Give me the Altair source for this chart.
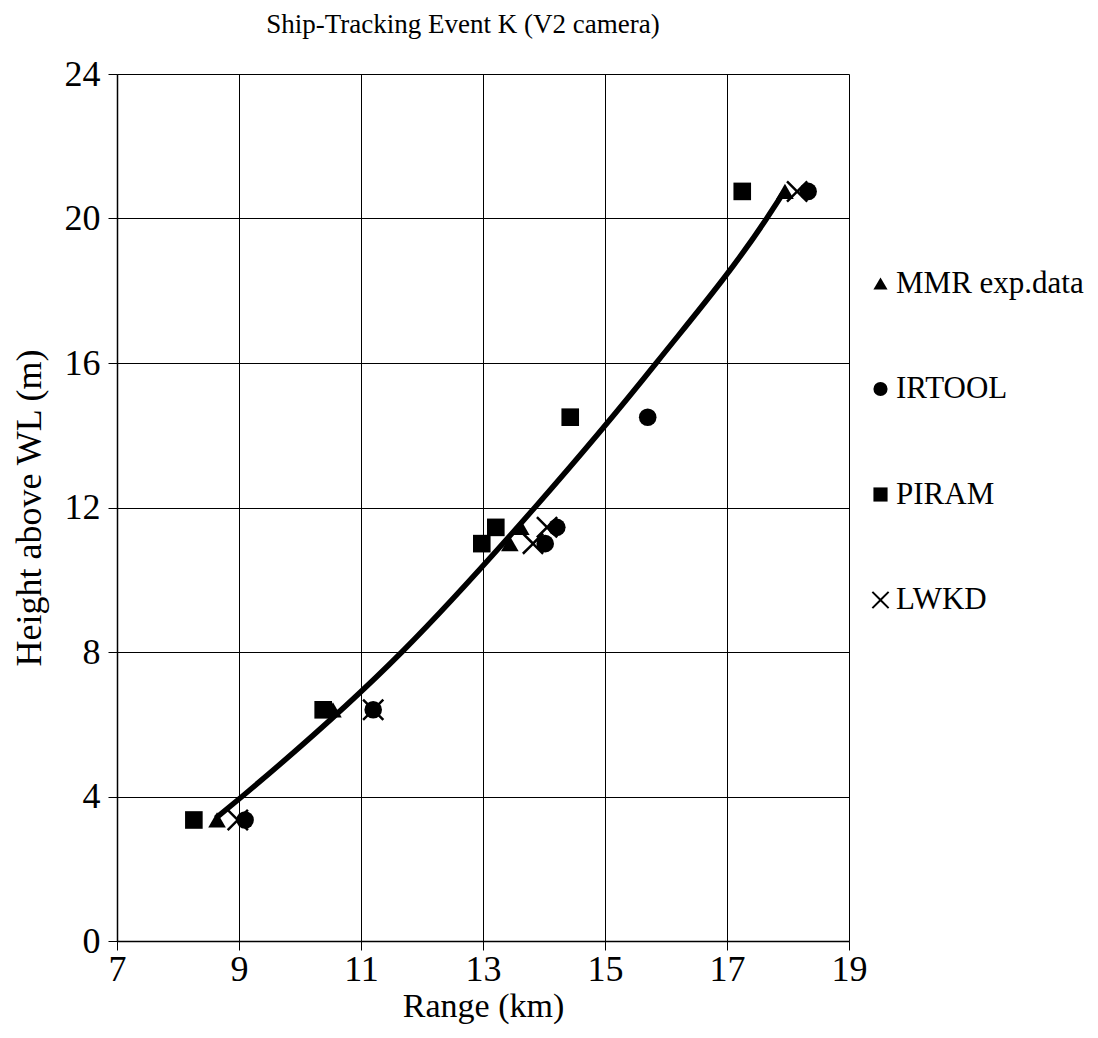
import altair as alt
import pandas as pd

# ---- data ----
series_names = ["MMR exp.data", "IRTOOL", "PIRAM", "LWKD"]

mmr_x = [8.64, 10.54, 13.44, 13.62, 17.95]
mmr_y = [3.35, 6.4, 11.0, 11.45, 20.75]

irtool_x = [9.10, 11.20, 14.02, 14.21, 15.70, 18.33]
irtool_y = [3.35, 6.4, 11.0, 11.45, 14.5, 20.75]

piram_x = [8.26, 10.38, 12.98, 13.21, 14.43, 17.25]
piram_y = [3.35, 6.4, 11.0, 11.45, 14.5, 20.75]

lwkd_x = [8.98, 11.20, 13.82, 14.05, 18.15]
lwkd_y = [3.35, 6.4, 11.0, 11.45, 20.75]

fit_x = [8.62, 9.05, 11.67, 13.85, 15.84, 17.65, 17.92]
fit_y = [3.4, 4.0, 8.0, 12.0, 16.0, 20.0, 20.7]

x_ticks = [7, 9, 11, 13, 15, 17, 19]
y_ticks = [0, 4, 8, 12, 16, 20, 24]

# ---- tables ----
rows = []
for name, xs, ys in [
    ("MMR exp.data", mmr_x, mmr_y),
    ("IRTOOL", irtool_x, irtool_y),
    ("PIRAM", piram_x, piram_y),
    ("LWKD", lwkd_x, lwkd_y),
]:
    for xv, yv in zip(xs, ys):
        rows.append({"series": name, "range": xv, "height": yv})
pts = pd.DataFrame(rows)
fit = pd.DataFrame({"range": fit_x, "height": fit_y})

FONT = "Liberation Serif"
X_PATH = ("M-1.05,-1.25L0,-0.2L1.05,-1.25L1.25,-1.05L0.2,0L1.25,1.05"
          "L1.05,1.25L0,0.2L-1.05,1.25L-1.25,1.05L-0.2,0L-1.25,-1.05Z")

xscale = alt.Scale(domain=[7, 19], nice=False, zero=False)
yscale = alt.Scale(domain=[0, 24], nice=False)

xaxis = alt.Axis(values=x_ticks, title="Range (km)", grid=True,
                 gridColor="black", gridOpacity=1, gridWidth=1,
                 domainColor="black", domainWidth=1.5, tickColor="black",
                 tickSize=9, labelFont=FONT, labelFontSize=36,
                 labelColor="black", labelPadding=2, labelFlush=False,
                 titleFont=FONT, titleFontSize=34, titleFontWeight="normal",
                 titleColor="black", titlePadding=2)
yaxis = alt.Axis(values=y_ticks, title="Height above WL (m)", grid=True,
                 gridColor="black", gridOpacity=1, gridWidth=1,
                 domainColor="black", domainWidth=1.5, tickColor="black",
                 tickSize=9, labelFont=FONT, labelFontSize=36,
                 labelColor="black", labelPadding=8, labelFlush=False,
                 titleFont=FONT, titleFontSize=36, titleFontWeight="normal",
                 titleColor="black", titlePadding=16)

line = alt.Chart(fit).mark_line(color="black", strokeWidth=5.5,
                                interpolate="monotone").encode(
    x=alt.X("range:Q", scale=xscale, axis=xaxis),
    y=alt.Y("height:Q", scale=yscale, axis=yaxis),
)

points = alt.Chart(pts).mark_point(filled=True, color="black",
                                   opacity=1, size=310).encode(
    x=alt.X("range:Q", scale=xscale, axis=xaxis),
    y=alt.Y("height:Q", scale=yscale, axis=yaxis),
    shape=alt.Shape(
        "series:N",
        scale=alt.Scale(domain=series_names,
                        range=["triangle-up", "circle", "square", X_PATH]),
        legend=alt.Legend(title=None, orient="none", legendX=748,
                          legendY=194, labelFont=FONT, labelFontSize=31,
                          labelColor="black", labelOffset=0, labelLimit=400,
                          symbolSize=200, symbolFillColor="black",
                          symbolStrokeColor="black", symbolStrokeWidth=0,
                          symbolType="circle", rowPadding=73.5, padding=0),
    ),
)

chart = alt.layer(line, points).properties(
    width=732,
    height=867,
    title=alt.Title("Ship-Tracking Event K (V2 camera)", font=FONT,
                    fontSize=27, fontWeight="normal", color="black",
                    anchor="middle", offset=17, dx=-20),
    autosize=alt.AutoSizeParams(type="none"),
    padding={"left": 109, "top": 66, "right": 241, "bottom": 84},
    background="white",
).configure_view(stroke=None)

chart.save("out.html", embed_options={"renderer": "svg", "actions": False})
